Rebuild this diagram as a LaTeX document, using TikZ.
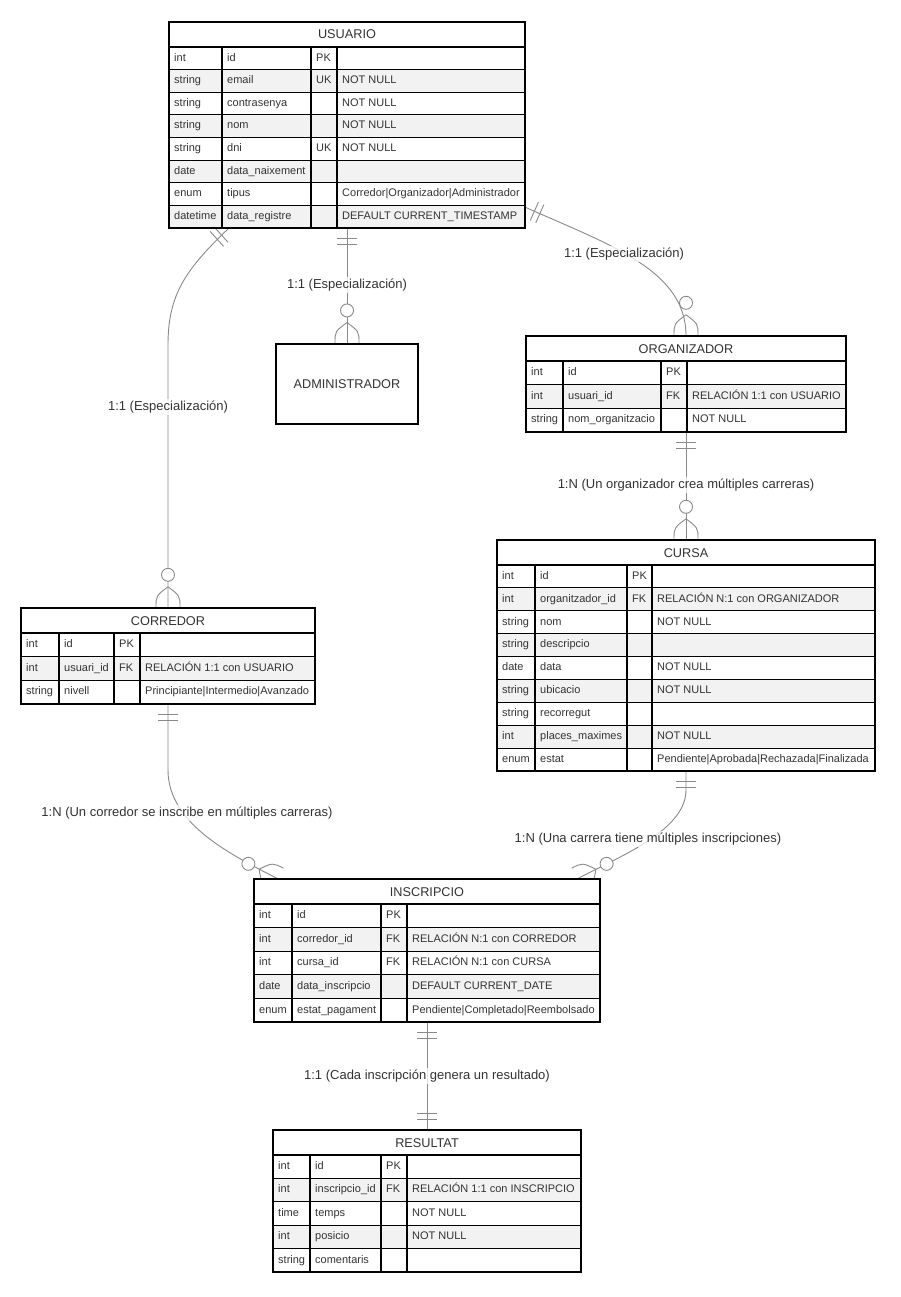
\documentclass[tikz,border=0pt]{standalone}
\usepackage{fontspec}
\setmainfont{Liberation Sans}
\usetikzlibrary{calc,fit}
\definecolor{rowgrey}{HTML}{F2F2F2}
\definecolor{txt}{HTML}{333333}
\definecolor{linegrey}{HTML}{8A8A8A}
\pgfdeclarelayer{bg}
\pgfsetlayers{bg,main}
\tikzset{
  cellline/.style={draw=black, line width=1.1pt},
  celltext/.style={anchor=west, inner sep=0pt, text=txt, text height=7.8pt, text depth=2.2pt, font=\fontsize{11}{13}\selectfont},
  ttl/.style={inner sep=0pt, text=txt, text height=9pt, text depth=0pt, font=\fontsize{12.7}{15}\selectfont},
  entbox/.style={inner sep=0pt, draw=none},
  rel/.style={draw=linegrey, line width=0.9pt},
  rellabel/.style={fill=white, fill opacity=0.75, text opacity=1, inner sep=1.5pt, text=txt, font=\fontsize{13}{15}\selectfont},
}
\newcommand\ertable[4]{%
  \foreach \xa/\xb/\xc/\xd/\xe/\ya/\yb/\nn in {#2}{%
    \node[entbox, fit={(\xa,\ya) (\xe,\yb)}] (#1) {};
    \pgfmathsetmacro\rh{(\yb-\ya-25)/\nn}
    \draw[cellline, fill=white] (\xa,\ya) rectangle (\xe,\ya+25);
    \node[ttl] (#1-title) at ({(\xa+\xe)/2},\ya+12.5) {#3};
    \foreach \cA/\cB/\cC/\cD [count=\i] in {#4}{%
      \pgfmathsetmacro\yt{\ya+25+(\i-1)*\rh}
      \pgfmathsetmacro\ym{\yt+\rh/2}
      \pgfmathsetmacro\ybt{\yt+\rh}
      \ifodd\i \def\rf{white}\else \def\rf{rowgrey}\fi
      \draw[cellline, fill=\rf] (\xa,\yt) rectangle (\xb,\ybt) (\xb,\yt) rectangle (\xc,\ybt) (\xc,\yt) rectangle (\xd,\ybt) (\xd,\yt) rectangle (\xe,\ybt);
      \node[celltext] (#1-\i-type) at (\xa+5,\ym) {\cA};
      \node[celltext] (#1-\i-name) at (\xb+5,\ym) {\cB};
      \node[celltext] (#1-\i-key) at (\xc+5,\ym) {\cC};
      \node[celltext] (#1-\i-note) at (\xd+5,\ym) {\cD};
    }
  }
}
\newcommand\zeromany[2]{%
  \begin{scope}[shift={(#1)}, rotate=#2]
    \draw[rel] (21,0) .. controls (12,12) .. (0,12);
    \draw[rel] (21,0) .. controls (12,-12) .. (0,-12);
    \draw[rel, fill=white] (33,0) circle (6.5);
  \end{scope}}
\newcommand\onlyone[2]{%
  \begin{scope}[shift={(#1)}, rotate=#2]
    \draw[rel] (10,-10) -- (10,10) (16,-10) -- (16,10);
  \end{scope}}
\begin{document}
\begin{tikzpicture}[x=1pt,y=-1pt]
\useasboundingbox (0,0) rectangle (900,1297);
\begin{pgfonlayer}{bg}
  \fill[white] (0,0) rectangle (900,1297);
\end{pgfonlayer}

\ertable{usuario}{169/222/311/337/525/22/228/8}{USUARIO}{%
  int/id/PK/,
  string/email/UK/NOT NULL,
  string/contrasenya//NOT NULL,
  string/nom//NOT NULL,
  string/dni/UK/NOT NULL,
  date/data\_naixement//,
  enum/tipus//Corredor|Organizador|Administrador,
  datetime/data\_registre//DEFAULT CURRENT\_TIMESTAMP}

\node[cellline, fill=white, minimum width=142pt, minimum height=80pt, inner sep=0pt, text=txt, font=\fontsize{12.7}{15}\selectfont] (administrador) at (347,384) {ADMINISTRADOR};

\ertable{organizador}{526/563/661/687/846/336/432/3}{ORGANIZADOR}{%
  int/id/PK/,
  int/usuari\_id/FK/RELACIÓN 1:1 con USUARIO,
  string/nom\_organitzacio//NOT NULL}

\ertable{cursa}{497/535/627/652/875/540/771/9}{CURSA}{%
  int/id/PK/,
  int/organitzador\_id/FK/RELACIÓN N:1 con ORGANIZADOR,
  string/nom//NOT NULL,
  string/descripcio//,
  date/data//NOT NULL,
  string/ubicacio//NOT NULL,
  string/recorregut//,
  int/places\_maximes//NOT NULL,
  enum/estat//Pendiente|Aprobada|Rechazada|Finalizada}

\ertable{corredor}{21/59/114/140/315/608/704/3}{CORREDOR}{%
  int/id/PK/,
  int/usuari\_id/FK/RELACIÓN 1:1 con USUARIO,
  string/nivell//Principiante|Intermedio|Avanzado}

\ertable{inscripcio}{254/292/381/407/600/879/1022/5}{INSCRIPCIO}{%
  int/id/PK/,
  int/corredor\_id/FK/RELACIÓN N:1 con CORREDOR,
  int/cursa\_id/FK/RELACIÓN N:1 con CURSA,
  date/data\_inscripcio//DEFAULT CURRENT\_DATE,
  enum/estat\_pagament//Pendiente|Completado|Reembolsado}

\ertable{resultat}{273/310/381/407/581/1130/1272/5}{RESULTAT}{%
  int/id/PK/,
  int/inscripcio\_id/FK/RELACIÓN 1:1 con INSCRIPCIO,
  time/temps//NOT NULL,
  int/posicio//NOT NULL,
  string/comentaris//}

\coordinate (c1a) at ($(usuario.south west)+(60,0)$);
\coordinate (c3a) at ($(usuario.south east)+(0,-21)$);
\coordinate (c5b) at ($(inscripcio.north west)+(24,0)$);
\coordinate (c6b) at ($(inscripcio.north east)+(-23,0)$);

\begin{pgfonlayer}{bg}
  \draw[rel] (c1a) .. controls (185,270) and (168,295) .. (168,345) -- (corredor.north);
  \draw[rel] (usuario.south) -- (administrador.north);
  \draw[rel] (c3a) .. controls (610,245) and (686,270) .. (organizador.north);
  \draw[rel] (organizador.south) -- (cursa.north);
  \draw[rel] (corredor.south) -- (168,770) .. controls (168,825) and (234,856) .. (c5b);
  \draw[rel] (cursa.south) -- (686,790) .. controls (686,830) and (621,856) .. (c6b);
  \draw[rel] (inscripcio.south) -- (resultat.north);
  \onlyone{c1a}{-138}
  \onlyone{usuario.south}{-90}
  \onlyone{c3a}{-24}
  \onlyone{organizador.south}{-90}
  \onlyone{corredor.south}{-90}
  \onlyone{cursa.south}{-90}
  \onlyone{inscripcio.south}{-90}
  \onlyone{resultat.north}{90}
  \zeromany{corredor.north}{90}
  \zeromany{administrador.north}{90}
  \zeromany{organizador.north}{90}
  \zeromany{cursa.north}{90}
  \zeromany{c5b}{153}
  \zeromany{c6b}{27}
\end{pgfonlayer}

\node[rellabel] (l1) at (168,407) {1:1 (Especialización)};
\node[rellabel] (l2) at (347,285) {1:1 (Especialización)};
\node[rellabel] (l3) at (624,254) {1:1 (Especialización)};
\node[rellabel] (l4) at (686,485) {1:N (Un organizador crea múltiples carreras)};
\node[rellabel] (l5) at (187,813) {1:N (Un corredor se inscribe en múltiples carreras)};
\node[rellabel] (l6) at (648,839) {1:N (Una carrera tiene múltiples inscripciones)};
\node[rellabel] (l7) at (427,1076) {1:1 (Cada inscripción genera un resultado)};
\end{tikzpicture}
\end{document}
